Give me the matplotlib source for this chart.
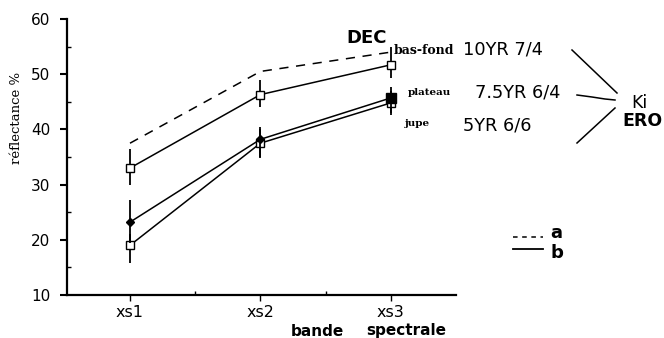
import matplotlib
matplotlib.use("Agg")
import matplotlib.pyplot as plt
import numpy as np

bands = ["xs1", "xs2", "xs3"]
xpos = [1, 2, 3]
dec_a = [37.5, 50.5, 54.0]
basfond = [33.0, 46.3, 51.7]
basfond_lo = [30.0, 44.0, 49.3]
basfond_hi = [36.5, 49.0, 55.0]
plateau = [23.2, 38.2, 45.7]
plateau_lo = [19.5, 35.0, 43.0]
plateau_hi = [27.2, 40.4, 47.7]
jupe = [19.0, 37.5, 44.8]
jupe_lo = [15.8, 34.8, 42.6]
jupe_hi = [21.0, 40.0, 47.0]
yticks = [10, 20, 30, 40, 50, 60]

SANS = "DejaVu Sans"
W, H = 664, 338
fig = plt.figure(figsize=(W/100, H/100), dpi=100)
ax = fig.add_axes([67/W, 1-295/H, (456-67)/W, (295-19)/H])
ax.set_xlim(0.517, 3.5)
ax.set_ylim(10, 60)
for s in ["top", "right"]:
    ax.spines[s].set_visible(False)
for s in ["left", "bottom"]:
    ax.spines[s].set_linewidth(1.6)

ax.set_yticks(yticks)
ax.set_yticklabels([str(v) for v in yticks], fontsize=11, family=SANS)
ax.set_yticks([15, 25, 35, 45, 55], minor=True)
ax.tick_params(axis="y", which="major", direction="out", length=5, width=1.5, pad=7)
ax.tick_params(axis="y", which="minor", direction="in", length=3, width=1)
ax.set_xticks(xpos)
ax.set_xticklabels(bands, fontsize=11.5, family=SANS)
ax.set_xticks([1.5, 2.5], minor=True)
ax.tick_params(axis="x", which="major", direction="out", length=4, width=1, pad=3)
ax.tick_params(axis="x", which="minor", direction="in", length=3, width=1)

ax.plot(xpos, dec_a, color="black", lw=1.1, ls=(0, (6, 5)))

def series(vals, lo, hi, marker, mfc, ms):
    ax.plot(xpos, vals, color="black", lw=1.1)
    ax.vlines(xpos, lo, hi, color="black", lw=1.3)
    ax.plot(xpos, vals, ls="none", marker=marker, mfc=mfc, mec="black", ms=ms, mew=1)

series(basfond, basfond_lo, basfond_hi, "s", "white", 6)
series(jupe, jupe_lo, jupe_hi, "s", "white", 6)
ax.plot(xpos[:2], plateau[:2], color="black", lw=1.1)
ax.plot(xpos[1:], plateau[1:], color="black", lw=1.1)
ax.vlines(xpos, plateau_lo, plateau_hi, color="black", lw=1.3)
ax.plot(xpos[:2], plateau[:2], ls="none", marker="D", mfc="black", mec="black", ms=4)
ax.plot(xpos[2:], plateau[2:], ls="none", marker="s", mfc="black", mec="black", ms=7)

def t(x, y, s, **kw):
    fig.text(x/W, 1-y/H, s, va="center", **kw)

t(17, 118, "réflectance %", rotation=90, ha="center", fontsize=9.5, family="DejaVu Serif")
t(291, 331, "bande", ha="left", fontsize=11, fontweight="bold", family=SANS)
t(366, 330, "spectrale", ha="left", fontsize=11, fontweight="bold", family=SANS)
t(346, 38, "DEC", ha="left", fontsize=13, fontweight="bold", family=SANS)
t(394, 50, "bas-fond", ha="left", fontsize=9, family="DejaVu Serif", fontweight="bold")
t(463, 50, "10YR 7/4", ha="left", fontsize=12.8, family=SANS)
t(408, 92, "plateau", ha="left", fontsize=7.5, family="DejaVu Serif", fontweight="bold")
t(475, 92, "7.5YR 6/4", ha="left", fontsize=12.8, family=SANS)
t(405, 124, "jupe", ha="left", fontsize=7.5, family="DejaVu Serif", fontweight="bold")
t(463, 125, "5YR 6/6", ha="left", fontsize=12.8, family=SANS)
t(631, 103, "Ki", ha="left", fontsize=12.5, family=SANS)
t(622, 121, "ERO", ha="left", fontsize=12.5, fontweight="bold", family=SANS)
t(550, 233, "a", ha="left", fontsize=13, fontweight="bold", family=SANS)
t(550, 253, "b", ha="left", fontsize=13, fontweight="bold", family=SANS)

def fl(xs, ys, **kw):
    fig.add_artist(plt.Line2D([x/W for x in xs], [1-y/H for y in ys], color="black", **kw))

fl([572, 617], [50, 93], lw=1.1)
fl([577, 592, 605, 615], [95, 97, 99, 100], lw=1.1)
fl([577, 615], [143, 108], lw=1.1)
fl([513, 543], [237, 237], lw=1.1, ls=(0, (3, 3)))
fl([513, 543], [249, 249], lw=1.3)

fig.savefig("out.png", dpi=100)
